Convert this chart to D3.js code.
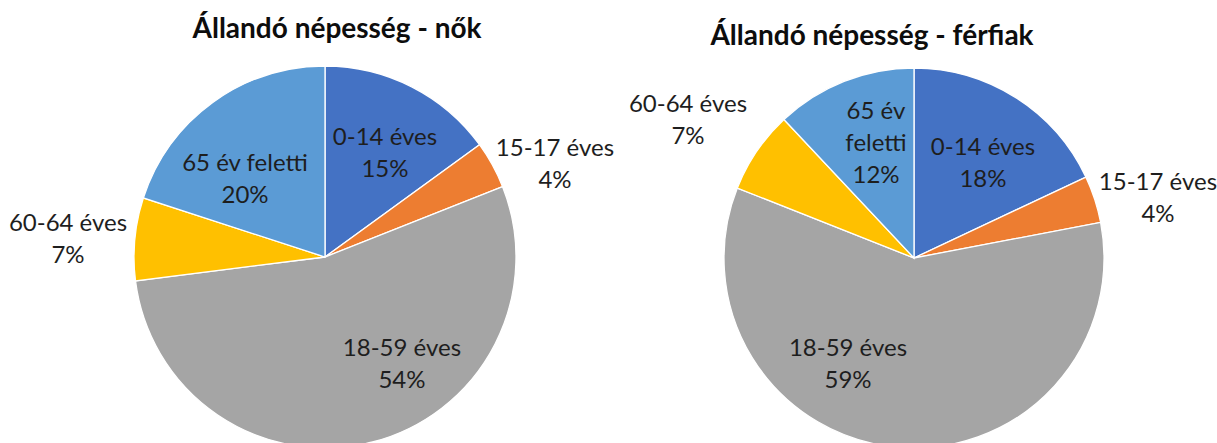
<!DOCTYPE html>
<html>
<head>
<meta charset="utf-8">
<script src="https://cdn.jsdelivr.net/npm/d3@7"></script>
<style>
  html, body { margin: 0; padding: 0; background: #fff; }
  svg { display: block; }
  .title { font-family: Lato, 'Noto Sans', sans-serif; font-weight: bold; fill: #0d0d0d; }
  .lbl { font-family: Lato, 'Noto Sans', sans-serif; fill: #1e1e1e; }
</style>
</head>
<body>
<svg id="chart" width="1217" height="443"></svg>
<script>
const categories = ['0-14 éves', '15-17 éves', '18-59 éves', '60-64 éves', '65 év feletti'];
const womenValues = [15, 4, 54, 7, 20];
const menValues = [18, 4, 59, 7, 12];
const colors = ['#4472C4', '#ED7D31', '#A5A5A5', '#FFC000', '#5B9BD5'];

// label text lines (men's 65+ label wraps onto two lines)
const womenLabelLines = [['0-14 éves'], ['15-17 éves'], ['18-59 éves'], ['60-64 éves'], ['65 év feletti']];
const menLabelLines = [['0-14 éves'], ['15-17 éves'], ['18-59 éves'], ['60-64 éves'], ['65 év', 'feletti']];

// label block centres, offset from pie centre (px)
const womenLabelOffsets = [[60, -104], [230, -93], [77, 107], [-257, -18], [-80, -78]];
const menLabelOffsets = [[69, -95], [244, -60], [-66, 106], [-226, -138], [-38, -115]];

const charts = [
  { title: 'Állandó népesség - nők', values: womenValues, lines: womenLabelLines, offsets: womenLabelOffsets,
    cx: 325, cy: 257, r: 191, tx: 337, ty: 38 },
  { title: 'Állandó népesség - férfiak', values: menValues, lines: menLabelLines, offsets: menLabelOffsets,
    cx: 914, cy: 258, r: 190, tx: 872, ty: 45 },
];

const svg = d3.select('#chart');
const color = d3.scaleOrdinal().domain(categories).range(colors);
const pie = d3.pie().sort(null).value((d) => d.value);
const lineH = 32;

charts.forEach((c) => {
  const rows = categories.map((cat, i) => ({ cat, value: c.values[i], lines: c.lines[i], off: c.offsets[i] }));
  const arc = d3.arc().innerRadius(0).outerRadius(c.r);
  const g = svg.append('g').attr('transform', `translate(${c.cx},${c.cy})`);

  g.selectAll('path')
    .data(pie(rows))
    .join('path')
    .attr('d', arc)
    .attr('fill', (d) => color(d.data.cat))
    .attr('stroke', '#fff')
    .attr('stroke-width', 1.3);

  const labels = g.selectAll('text.lbl')
    .data(rows)
    .join('text')
    .attr('class', 'lbl')
    .attr('text-anchor', 'middle')
    .style('font-size', '24px');

  labels.each(function (d) {
    const all = d.lines.concat([`${d.value}%`]);
    const top = d.off[1] + 8 - ((all.length - 1) * lineH) / 2;
    d3.select(this)
      .selectAll('tspan')
      .data(all)
      .join('tspan')
      .attr('x', d.off[0])
      .attr('y', (t, k) => top + k * lineH)
      .text((t) => t);
  });

  svg.append('text')
    .attr('class', 'title')
    .attr('x', c.tx)
    .attr('y', c.ty)
    .attr('text-anchor', 'middle')
    .style('font-size', '28px')
    .text(c.title);
});
</script>
</body>
</html>
